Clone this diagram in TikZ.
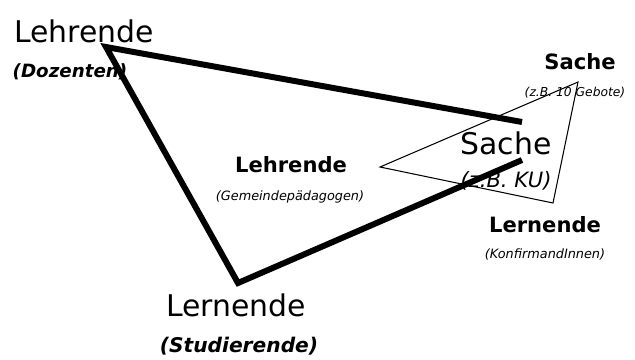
\documentclass[tikz,border=0pt]{standalone}
\usepackage{fontspec}
\setmainfont{DejaVu Sans}

\begin{document}
\begin{tikzpicture}[x=0.02cm, y=-0.02cm, inner sep=0pt,
    big/.style={font=\fontsize{17}{20}\selectfont},
    mid/.style={font=\fontsize{12}{14}\selectfont\bfseries},
    sub/.style={font=\fontsize{10.4}{12}\selectfont\bfseries\itshape},
    note/.style={font=\fontsize{7.3}{9}\selectfont\itshape},
    thick edge/.style={line width=3.4pt},
    thin edge/.style={line width=0.6pt}]
  \useasboundingbox (0,0) rectangle (635,359);

  % outer triangle (university)
  \coordinate (uLehr) at (106,47);
  \coordinate (uLern) at (238,283);
  \coordinate (uSacheA) at (522,122);
  \coordinate (uSacheB) at (522,160);
  % inner triangle (parish)
  \coordinate (gLehr) at (380,167);
  \coordinate (gSache) at (578,82);
  \coordinate (gLern) at (553,203);

  \draw[thick edge] (uSacheA) -- (uLehr) -- (uLern) -- (uSacheB);
  \draw[thin edge] (gLehr) -- (gSache) -- (gLern) -- cycle;

  \node[big] (lehrU) at (84,31) {Lehrende};
  \node[sub] (dozU) at (70,72) {(Dozenten)};
  \node[big] (lernU) at (236,305) {Lernende};
  \node[sub, font=\fontsize{11.5}{13}\selectfont\bfseries\itshape] (studU) at (239,346) {(Studierende)};
  \node[big] (sacheU) at (506,143) {Sache};
  \node[font=\fontsize{12}{14}\selectfont\itshape] (kuU) at (506,181) {(z.B. KU)};

  \node[mid] (lehrG) at (291,165) {Lehrende};
  \node[note] (gemG) at (290,197) {(Gemeindepädagogen)};
  \node[mid] (sacheG) at (580,62) {Sache};
  \node[note, font=\fontsize{7}{9}\selectfont\itshape] (gebG) at (575,93) {(z.B. 10 Gebote)};
  \node[mid] (lernG) at (545,225) {Lernende};
  \node[note] (konG) at (545,254) {(KonfirmandInnen)};
\end{tikzpicture}
\end{document}
